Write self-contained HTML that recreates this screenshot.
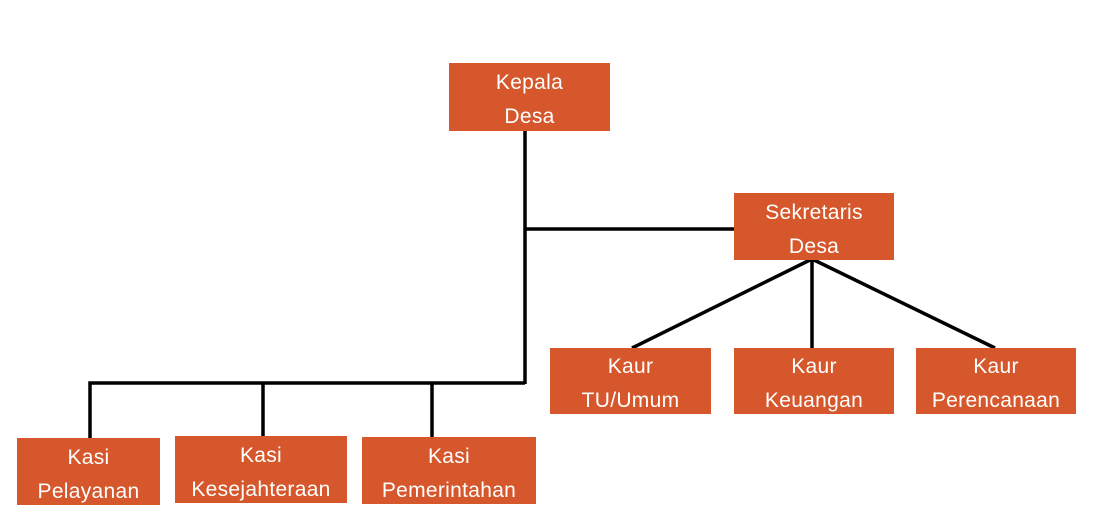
<!DOCTYPE html>
<html><head><meta charset="utf-8"><style>
html,body{margin:0;padding:0;background:#fff;width:1116px;height:527px;overflow:hidden;position:relative}
.b{position:absolute;background:#D5572B;color:#fff;font-family:"Liberation Sans",sans-serif;font-size:21px;line-height:34px;text-align:center;display:flex;align-items:center;justify-content:center;flex-direction:column;letter-spacing:0.3px;box-sizing:border-box;padding-top:6px}
svg{position:absolute;left:0;top:0}
</style></head><body>
<svg width="1116" height="527">
<g stroke="#000" stroke-width="3.5" fill="none">
<line x1="525" y1="130" x2="525" y2="384"/>
<line x1="525" y1="229" x2="735" y2="229"/>
<polyline points="90,438 90,383 525,383"/>
<line x1="263" y1="383" x2="263" y2="437"/>
<line x1="432" y1="383" x2="432" y2="437"/>
<line x1="812" y1="259" x2="632" y2="348"/>
<line x1="812" y1="259" x2="812" y2="348"/>
<line x1="812" y1="259" x2="995" y2="348"/>
</g>
</svg>
<div class="b" style="left:449px;top:63px;width:161px;height:68px">Kepala<br>Desa</div>
<div class="b" style="left:734px;top:193px;width:160px;height:67px">Sekretaris<br>Desa</div>
<div class="b" style="left:550px;top:348px;width:161px;height:66px">Kaur<br>TU/Umum</div>
<div class="b" style="left:734px;top:348px;width:160px;height:66px">Kaur<br>Keuangan</div>
<div class="b" style="left:916px;top:348px;width:160px;height:66px">Kaur<br>Perencanaan</div>
<div class="b" style="left:17px;top:438px;width:143px;height:67px">Kasi<br>Pelayanan</div>
<div class="b" style="left:175px;top:436px;width:172px;height:67px">Kasi<br>Kesejahteraan</div>
<div class="b" style="left:362px;top:437px;width:174px;height:67px">Kasi<br>Pemerintahan</div>
</body></html>
